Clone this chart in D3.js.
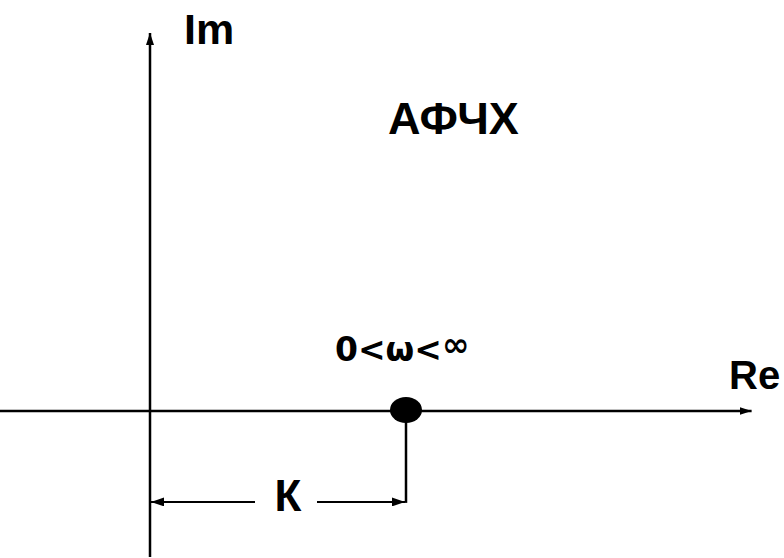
<!DOCTYPE html>
<html>
<head>
<meta charset="utf-8">
<script src="https://cdn.jsdelivr.net/npm/d3@7/dist/d3.min.js"></script>
<style>
html,body{margin:0;padding:0;background:#fff;}
svg{display:block;}
</style>
</head>
<body>
<svg id="chart" width="784" height="558"></svg>
<script>
// ---- data ----
const gainK = [1];                        // static gain K (real-axis position of the AФЧХ point)
const afchPoints = [{re: 1, im: 0}];       // the whole AФЧХ collapses to one point for 0<ω<∞
const reDomain = [-0.586, 2.35];           // real-axis extent (left end, arrow tip)
const imDomain = [-0.57, 1.477];           // imaginary-axis extent (bottom end, arrow tip)
const axisLabels = ["Re", "Im"];
const titleLabel = ["АФЧХ"];
const freqLabel = ["0<ω<", "∞"];
const dimLabel = ["К"];

// ---- scales ----
const svg = d3.select("#chart");
const x = d3.scaleLinear().domain([0, 1]).range([150, 406]);
const y = d3.scaleLinear().domain([0, 1]).range([411, 155]);

const ink = "#000";
const font = "'Liberation Sans', Arial, sans-serif";

svg.append("defs").call(d => {
  d.append("marker").attr("id", "arr").attr("viewBox", "0 0 12 8")
    .attr("refX", 12).attr("refY", 4).attr("markerWidth", 12).attr("markerHeight", 8)
    .attr("markerUnits", "userSpaceOnUse").attr("orient", "auto-start-reverse")
    .append("path").attr("d", "M0,0 L12,4 L0,8 Z").attr("fill", ink);
  d.append("marker").attr("id", "arr2").attr("viewBox", "0 0 13 9")
    .attr("refX", 13).attr("refY", 4.5).attr("markerWidth", 13).attr("markerHeight", 9)
    .attr("markerUnits", "userSpaceOnUse").attr("orient", "auto-start-reverse")
    .append("path").attr("d", "M0,0 L13,4.5 L0,9 Z").attr("fill", ink);
});

// real axis
svg.append("line")
  .attr("x1", x(reDomain[0])).attr("x2", x(reDomain[1]))
  .attr("y1", y(0)).attr("y2", y(0))
  .attr("stroke", ink).attr("stroke-width", 2.5)
  .attr("marker-end", "url(#arr)");

// imaginary axis
svg.append("line")
  .attr("x1", x(0)).attr("x2", x(0))
  .attr("y1", y(imDomain[0])).attr("y2", y(imDomain[1]))
  .attr("stroke", ink).attr("stroke-width", 2.5)
  .attr("marker-end", "url(#arr)");

// drop line from point to dimension line
const dimY = y(-0.355);
svg.selectAll("line.drop").data(afchPoints).join("line").attr("class", "drop")
  .attr("x1", d => x(d.re)).attr("x2", d => x(d.re))
  .attr("y1", d => y(d.im)).attr("y2", dimY + 1)
  .attr("stroke", ink).attr("stroke-width", 2.5);

// dimension line for K (with gap for label)
const kx = x(gainK[0]);
const gapL = 255, gapR = 317;
svg.append("line")
  .attr("x1", gapL).attr("x2", x(0) + 1).attr("y1", dimY).attr("y2", dimY)
  .attr("stroke", ink).attr("stroke-width", 2).attr("marker-end", "url(#arr2)");
svg.append("line")
  .attr("x1", gapR).attr("x2", kx - 1).attr("y1", dimY).attr("y2", dimY)
  .attr("stroke", ink).attr("stroke-width", 2).attr("marker-end", "url(#arr2)");

// the point
svg.selectAll("ellipse.pt").data(afchPoints).join("ellipse").attr("class", "pt")
  .attr("cx", d => x(d.re)).attr("cy", d => y(d.im) - 1)
  .attr("rx", 16).attr("ry", 13).attr("fill", ink);

// labels
const txt = (s, xx, yy, size, anchor, fam) => svg.append("text")
  .attr("x", xx).attr("y", yy).attr("font-family", fam || font)
  .attr("font-weight", "bold").attr("font-size", size)
  .attr("text-anchor", anchor || "start").attr("fill", ink).text(s);

txt(axisLabels[1], 184, 44, 43);
txt(axisLabels[0], 729, 389, 40);
txt(titleLabel[0], 388, 134, 45);
const fl = txt(freqLabel[0], 335, 361, 33, "start", "'DejaVu Sans', sans-serif");
fl.append("tspan").attr("dy", -5).text(freqLabel[1]);
txt(dimLabel[0], (gapL + gapR) / 2 + 2, 511, 44, "middle");
</script>
</body>
</html>
